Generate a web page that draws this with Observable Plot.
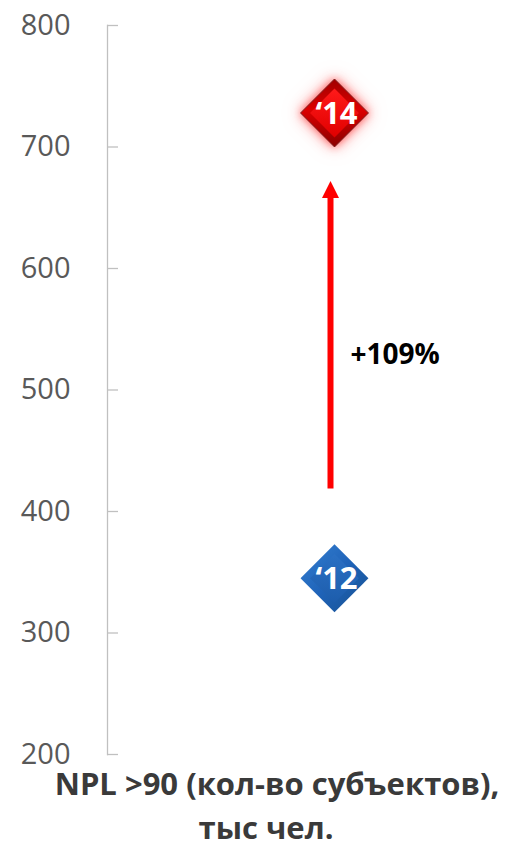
<!DOCTYPE html>
<html>
<head>
<meta charset="utf-8">
<script src="https://cdn.jsdelivr.net/npm/d3@7"></script>
<script src="https://cdn.jsdelivr.net/npm/@observablehq/plot@0.6"></script>
<style>
  html, body { margin: 0; padding: 0; background: #fff; }
  #chart { width: 506px; height: 850px; }
</style>
</head>
<body>
<div id="chart"></div>
<script>
// ---- data ----
const category = "NPL";
const years = ["\u201812", "\u201814"];
const values = [345, 728];
const arrowFrom = 419;      // shaft start value
const arrowTo = 658;        // arrow head base value
const arrowLabel = "+109%";
const arrowLabelValue = 529;
const yTicks = [200, 300, 400, 500, 600, 700, 800];
const titleLines = ["NPL >90 (кол-во субъектов),", "тыс чел."];

const points = years.map((y, i) => ({cat: category, year: y, value: values[i]}));
const arrow = [{cat: category, from: arrowFrom, to: arrowTo}];

const arrowHead = {
  draw(ctx) {
    ctx.moveTo(0, -17);
    ctx.lineTo(8.5, 0);
    ctx.lineTo(-8.5, 0);
    ctx.closePath();
  }
};

const chart = Plot.plot({
  width: 506,
  height: 850,
  marginTop: 25,
  marginBottom: 96,
  marginLeft: 107,
  marginRight: 0,
  style: {fontFamily: "'Open Sans', sans-serif", background: "#fff"},
  x: {type: "point", domain: [category], align: 0.57, axis: null},
  y: {domain: [200, 800]},
  color: {domain: years, range: ["#1f5fb0", "#dd0000"]},
  marks: [
    Plot.frame({anchor: "left", stroke: "#c0c0c0", strokeWidth: 1.3}),
    Plot.axisY({
      ticks: yTicks, tickSize: -11, tickPadding: 48,
      stroke: "#c0c0c0", strokeWidth: 1.3, fill: "#595959", fontSize: 29,
      label: null, tickFormat: d => String(d)
    }),
    // arrow shaft
    Plot.link(arrow, {x1: "cat", x2: "cat", y1: "from", y2: "to", stroke: "#ff0000", strokeWidth: 6, dx: -4}),
    // arrow head
    Plot.dot(arrow, {x: "cat", y: "to", symbol: arrowHead, fill: "#ff0000", stroke: "none", dx: -4}),
    Plot.text(arrow, {x: "cat", y: () => arrowLabelValue, text: () => arrowLabel, textAnchor: "start", dx: 16, fontSize: 28, fontWeight: "bold", fill: "#000"}),
    // diamonds (outer bevel + inner face)
    Plot.dot(points, {x: "cat", y: "value", symbol: "diamond2", r: 30.6, fill: "year", stroke: "none"}),
    Plot.dot(points, {x: "cat", y: "value", symbol: "diamond2", r: 22, fill: "year", stroke: "none"}),
    Plot.text(points, {x: "cat", y: "value", text: "year", fill: "#fff", fontSize: 31, fontWeight: "bold", dx: 2, dy: 1}),
    // title below the axis
    Plot.text([titleLines[0]], {frameAnchor: "bottom", text: d => d, dy: 40, dx: -30, fontSize: 31, fontWeight: "bold", fill: "#3a3a3a"}),
    Plot.text([titleLines[1]], {frameAnchor: "bottom", text: d => d, dy: 84, dx: -41, fontSize: 31, fontWeight: "bold", fill: "#3a3a3a"})
  ]
});

document.getElementById("chart").appendChild(chart);

// gradients / glow styling
const svg = d3.select(chart);
const defs = svg.insert("defs", ":first-child");
function grad(id, stops, x1, y1, x2, y2) {
  const g = defs.append("linearGradient").attr("id", id)
    .attr("x1", x1).attr("y1", y1).attr("x2", x2).attr("y2", y2);
  stops.forEach(([o, c]) => g.append("stop").attr("offset", o).attr("stop-color", c));
}
grad("redOuter", [["0%", "#a00000"], ["45%", "#dc0000"], ["100%", "#8a0000"]], "0%", "0%", "0%", "100%");
grad("redInner", [["0%", "#ff1a1a"], ["100%", "#e00000"]], "0%", "0%", "0%", "100%");
grad("blueOuter", [["0%", "#3580d2"], ["50%", "#1f63b8"], ["100%", "#17508f"]], "0%", "0%", "100%", "100%");
grad("blueInner", [["0%", "#2a70c4"], ["100%", "#1d5dac"]], "0%", "0%", "0%", "100%");

// dot groups in mark order: [arrow head, outer diamonds, inner diamonds]
const dotGroups = svg.selectAll('g[aria-label="dot"]').nodes();
const outer = dotGroups.length >= 3 ? d3.select(dotGroups[1]).selectAll("path").nodes() : [];
const inner = dotGroups.length >= 3 ? d3.select(dotGroups[2]).selectAll("path").nodes() : [];
function styleDiamonds(nodes, blueFill, redFill, outerRing) {
  nodes.forEach(n => {
    const f = (n.getAttribute("fill") || "").toLowerCase();
    const isRed = f === "#dd0000" || f.indexOf("221") >= 0;
    d3.select(n).attr("fill", isRed ? redFill : blueFill);
    if (isRed && outerRing) {
      d3.select(n).attr("stroke", "#7a2020").attr("stroke-width", 1)
        .style("filter", "drop-shadow(0 0 4px rgba(255,60,60,0.75)) drop-shadow(0 0 8px rgba(255,90,90,0.5))");
    }
  });
}
styleDiamonds(outer, "url(#blueOuter)", "url(#redOuter)", true);
styleDiamonds(inner, "url(#blueInner)", "url(#redInner)", false);
</script>
</body>
</html>
